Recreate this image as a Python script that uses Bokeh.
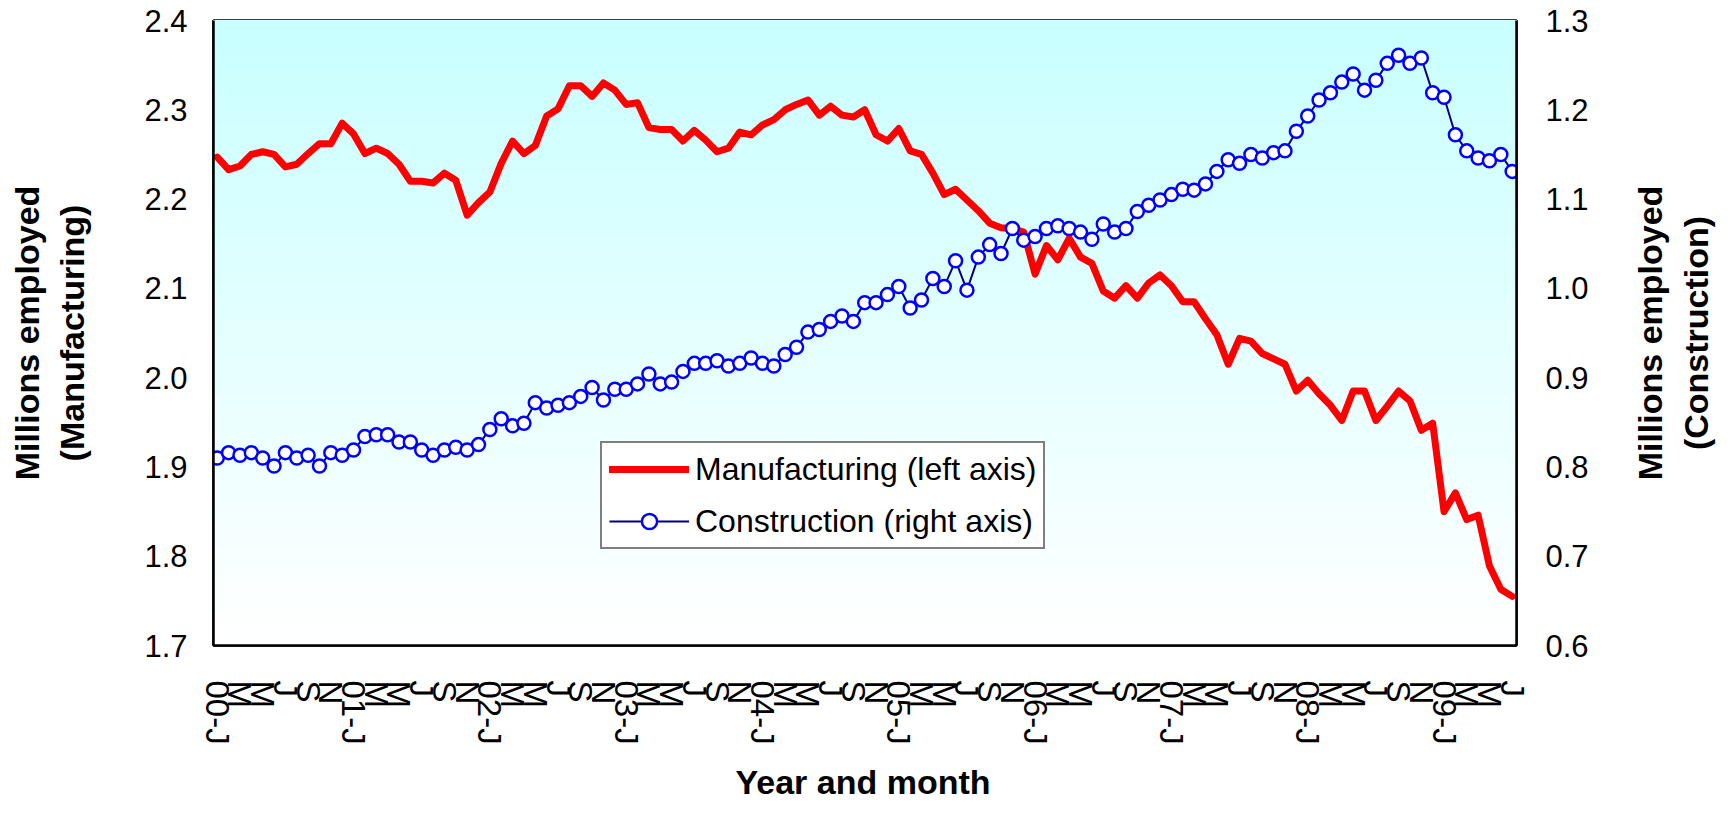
from bokeh.plotting import figure
from bokeh.layouts import row, column
from bokeh.models import (Range1d, LinearAxis, FixedTicker, Legend, LegendItem,
                          Label, BoxAnnotation, NumeralTickFormatter)
from bokeh.embed import file_html
from bokeh.resources import INLINE

# ---------------- data (Jan 2000 .. Jul 2009, monthly) ----------------
manufacturing = [
    2.247, 2.233, 2.237, 2.250, 2.253, 2.250, 2.236, 2.239, 2.251, 2.262, 2.262, 2.285,
    2.273, 2.251, 2.257, 2.251, 2.239, 2.220, 2.220, 2.218, 2.229, 2.221, 2.182, 2.196,
    2.208, 2.240, 2.265, 2.251, 2.260, 2.293, 2.301, 2.327, 2.327, 2.315, 2.330, 2.322,
    2.306, 2.308, 2.280, 2.278, 2.278, 2.265, 2.277, 2.266, 2.253, 2.257, 2.275, 2.272,
    2.283, 2.289, 2.300, 2.306, 2.311, 2.294, 2.304, 2.294, 2.292, 2.300, 2.272, 2.265,
    2.279, 2.254, 2.250, 2.229, 2.205, 2.211, 2.199, 2.187, 2.173, 2.168, 2.167, 2.163,
    2.116, 2.148, 2.132, 2.156, 2.135, 2.128, 2.097, 2.089, 2.103, 2.089, 2.106, 2.115,
    2.103, 2.085, 2.085, 2.066, 2.048, 2.015, 2.044, 2.041, 2.027, 2.021, 2.015, 1.985,
    1.997, 1.982, 1.969, 1.952, 1.985, 1.985, 1.952, 1.968, 1.985, 1.974, 1.941, 1.949,
    1.850, 1.871, 1.841, 1.846, 1.789, 1.763, 1.755,
]
construction = [
    0.810, 0.816, 0.813, 0.816, 0.810, 0.801, 0.816, 0.810, 0.813, 0.801, 0.816, 0.813,
    0.819, 0.834, 0.836, 0.836, 0.828, 0.828, 0.819, 0.813, 0.819, 0.822, 0.819, 0.825,
    0.842, 0.854, 0.846, 0.849, 0.872, 0.866, 0.869, 0.872, 0.879, 0.889, 0.875, 0.887,
    0.887, 0.893, 0.904, 0.893, 0.895, 0.907, 0.916, 0.916, 0.919, 0.913, 0.916, 0.922,
    0.916, 0.913, 0.926, 0.934, 0.951, 0.954, 0.963, 0.969, 0.963, 0.984, 0.984, 0.993,
    1.002, 0.978, 0.987, 1.011, 1.002, 1.031, 0.998, 1.035, 1.049, 1.039, 1.067, 1.054,
    1.058, 1.067, 1.070, 1.067, 1.063, 1.055, 1.072, 1.063, 1.067, 1.086, 1.093, 1.099,
    1.105, 1.111, 1.110, 1.117, 1.131, 1.144, 1.140, 1.150, 1.146, 1.152, 1.154, 1.176,
    1.193, 1.211, 1.219, 1.231, 1.240, 1.222, 1.233, 1.252, 1.261, 1.252, 1.258, 1.219,
    1.214, 1.172, 1.154, 1.146, 1.143, 1.150, 1.131,
]
tick_labels = [
    "00-J", "M", "M", "J", "S", "N",
    "01-J", "M", "M", "J", "S", "N",
    "02-J", "M", "M", "J", "S", "N",
    "03-J", "M", "M", "J", "S", "N",
    "04-J", "M", "M", "J", "S", "N",
    "05-J", "M", "M", "J", "S", "N",
    "06-J", "M", "M", "J", "S", "N",
    "07-J", "M", "M", "J", "S", "N",
    "08-J", "M", "M", "J", "S", "N",
    "09-J", "M", "M", "J",
]
left_ticks = [1.7, 1.8, 1.9, 2.0, 2.1, 2.2, 2.3, 2.4]
right_ticks = [0.6, 0.7, 0.8, 0.9, 1.0, 1.1, 1.2, 1.3]
x_title = "Year and month"
left_title = "Millions employed\n(Manufacturing)"
right_title = "Millions employed\n(Construction)"

x = list(range(len(manufacturing)))
tick_pos = x[::2]

FONT = "Liberation Sans"

# ---------------- layout numbers ----------------
BL, FW, BR = 213, 1303, 101      # left border, frame width, right border
BT, FH, BB = 20, 625, 116        # top border, frame height, bottom border
P_W = BL + FW + BR               # 1617
P_H = BT + FH + BB               # 761
SIDE_W = 1716 - P_W              # 99
FOOT_H = 801 - P_H               # 40

p = figure(width=P_W, height=P_H, output_backend="svg", toolbar_location=None,
           x_range=Range1d(-0.33, len(x) - 1 + 0.38),
           y_range=Range1d(left_ticks[0], left_ticks[-1]),
           min_border_left=BL, min_border_right=BR,
           min_border_top=BT, min_border_bottom=BB)
p.extra_y_ranges = {"right": Range1d(right_ticks[0], right_ticks[-1])}

p.background_fill_color = "white"
p.border_fill_color = "white"
p.outline_line_color = "black"
p.outline_line_width = 2.5
p.xgrid.visible = False
p.ygrid.visible = False

# vertical gradient background (light cyan at top to white at bottom)
nb = 90
for k in range(nb):
    t = k / nb
    r = int(round(255 - (255 - 200) * t))
    col = "#%02x%02x%02x" % (r, 255, 255)
    p.add_layout(BoxAnnotation(bottom=left_ticks[0] + (left_ticks[-1] - left_ticks[0]) * t,
                               fill_color=col, fill_alpha=1.0, line_color=None,
                               level="underlay"))

# series
r_man = p.line(x, manufacturing, line_color="#FF0000", line_width=7,
               line_join="round", line_cap="round")
r_con_line = p.line(x, construction, y_range_name="right", line_color="#000080",
                    line_width=2)
r_con_pts = p.scatter(x, construction, y_range_name="right", marker="circle", size=13,
                      fill_color="white", line_color="#0000FF", line_width=2.5)

# axes
xa = p.xaxis[0]
xa.ticker = FixedTicker(ticks=tick_pos)
xa.major_label_overrides = {t: lab for t, lab in zip(tick_pos, tick_labels)}
xa.major_label_orientation = "vertical"
xa.major_label_standoff = 35

ya = p.yaxis[0]
ya.ticker = FixedTicker(ticks=left_ticks)
ya.formatter = NumeralTickFormatter(format="0.0")
ya.axis_label = left_title
ya.axis_label_standoff = 50
ya.major_label_standoff = 26

ra = LinearAxis(y_range_name="right")
ra.ticker = FixedTicker(ticks=right_ticks)
ra.formatter = NumeralTickFormatter(format="0.0")
ra.major_label_standoff = 29
p.add_layout(ra, "right")

for ax in [xa, ya, ra]:
    ax.axis_line_color = "black"
    ax.axis_line_width = 2.5
    ax.major_tick_line_color = None
    ax.minor_tick_line_color = None
    ax.major_tick_out = 0
    ax.major_tick_in = 0
    ax.minor_tick_out = 0
    ax.minor_tick_in = 0
    ax.major_label_text_font = FONT
    ax.major_label_text_font_size = "31px"
    ax.major_label_text_color = "black"
    ax.axis_label_text_font = FONT
    ax.axis_label_text_font_size = "34px"
    ax.axis_label_text_font_style = "bold"
    ax.axis_label_text_color = "black"
xa.major_label_text_font_size = "33px"

legend = Legend(items=[
    LegendItem(label="Manufacturing (left axis)", renderers=[r_man]),
    LegendItem(label="Construction (right axis)", renderers=[r_con_line, r_con_pts]),
], location=(387, 96), orientation="vertical")
legend.label_text_font = FONT
legend.label_text_font_size = "32px"
legend.label_text_color = "black"
legend.glyph_width = 80
legend.glyph_height = 38
legend.label_height = 38
legend.spacing = 14
legend.padding = 7
legend.margin = 0
legend.label_standoff = 6
legend.border_line_color = "black"
legend.border_line_width = 2
legend.background_fill_color = "white"
legend.background_fill_alpha = 1.0
p.add_layout(legend)

# ---- right-hand title: an axis title on a narrow companion panel (reads bottom-to-top)
side = figure(width=SIDE_W, height=P_H, output_backend="svg", toolbar_location=None,
              x_axis_type=None, y_axis_type=None,
              min_border_left=SIDE_W - 2, min_border_right=0,
              min_border_top=BT, min_border_bottom=BB,
              x_range=Range1d(0, 1), y_range=Range1d(0, 1))
side.outline_line_color = None
side.background_fill_color = "white"
side.border_fill_color = "white"
side.xgrid.visible = False
side.ygrid.visible = False
side_axis = LinearAxis(ticker=FixedTicker(ticks=[]), axis_label=right_title)
side_axis.axis_line_color = None
side_axis.major_tick_line_color = None
side_axis.minor_tick_line_color = None
side_axis.major_tick_out = 0
side_axis.major_tick_in = 0
side_axis.minor_tick_out = 0
side_axis.minor_tick_in = 0
side_axis.major_label_standoff = 0
side_axis.axis_label_standoff = 0
side_axis.axis_label_text_font = FONT
side_axis.axis_label_text_font_size = "34px"
side_axis.axis_label_text_font_style = "bold"
side_axis.axis_label_text_color = "black"
side.add_layout(side_axis, "left")

# ---- x-axis title on a footer panel
foot = figure(width=1716, height=FOOT_H, output_backend="svg", toolbar_location=None,
              x_axis_type=None, y_axis_type=None, min_border=0,
              x_range=Range1d(0, 1), y_range=Range1d(0, 1))
foot.outline_line_color = None
foot.background_fill_color = "white"
foot.border_fill_color = "white"
foot.xgrid.visible = False
foot.ygrid.visible = False
foot.add_layout(Label(x=BL + FW / 2 - 2, y=FOOT_H / 2, x_units="screen", y_units="screen",
                      text=x_title, text_align="center", text_baseline="middle",
                      text_font=FONT, text_font_size="34px", text_font_style="bold",
                      text_color="black"))

layout = column(row(p, side, spacing=0), foot, spacing=0)

open("out.html", "w").write(file_html(layout, INLINE))
